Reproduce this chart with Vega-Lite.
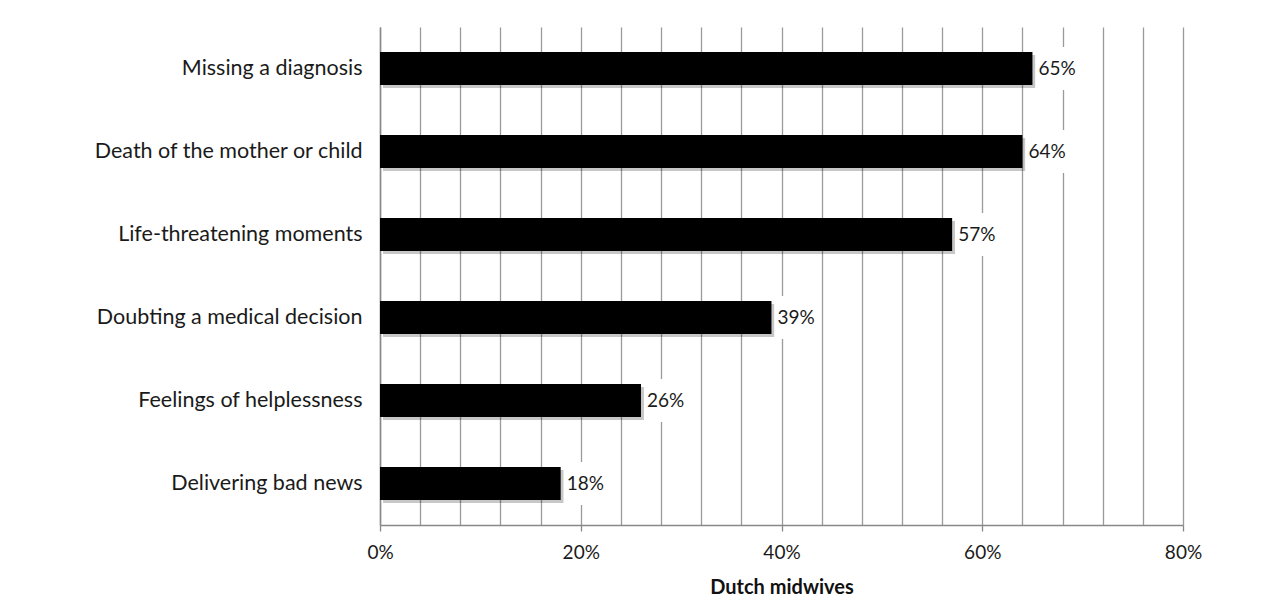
{
  "$schema": "https://vega.github.io/schema/vega-lite/v6.json",
  "width": 803,
  "height": 498,
  "autosize": "none",
  "padding": {"left": 380, "top": 27, "right": 104, "bottom": 91},
  "background": "white",
  "config": {
    "view": {"stroke": null},
    "font": "Lato",
    "axis": {"labelFont": "Lato", "titleFont": "Lato"}
  },
  "data": {
    "values": [
      {"item": "Missing a diagnosis", "value": 0.65},
      {"item": "Death of the mother or child", "value": 0.64},
      {"item": "Life-threatening moments", "value": 0.57},
      {"item": "Doubting a medical decision", "value": 0.39},
      {"item": "Feelings of helplessness", "value": 0.26},
      {"item": "Delivering bad news", "value": 0.18}
    ]
  },
  "encoding": {
    "y": {
      "field": "item", "type": "nominal", "sort": null,
      "scale": {"paddingInner": 0.6, "paddingOuter": 0.3},
      "axis": {
        "title": null, "ticks": false, "labelFontSize": 21.5, "labelColor": "#1a1a1a",
        "labelPadding": 18, "domainColor": "#888", "domainWidth": 1.5, "labelLimit": 400
      }
    }
  },
  "layer": [
    {
      "mark": {"type": "bar", "color": "#000", "opacity": 0.22, "xOffset": 3, "yOffset": 3, "height": {"band": 1}},
      "encoding": {
        "x": {
          "field": "value", "type": "quantitative",
          "scale": {"domain": [0, 0.8], "nice": false},
          "axis": {
            "values": [0, 0.04, 0.08, 0.12, 0.16, 0.2, 0.24, 0.28, 0.32, 0.36, 0.4, 0.44, 0.48, 0.52, 0.56, 0.6, 0.64, 0.68, 0.72, 0.76, 0.8],
            "labelExpr": "(round(datum.value*100) % 20 === 0) ? format(datum.value, '.0%') : ''",
            "labelFlush": false,
            "grid": true, "gridColor": "#9a9a9a", "gridWidth": 1.3,
            "tickColor": "#888", "tickSize": 6, "tickWidth": 1.3,
            "tickOpacity": {"condition": {"test": "round(datum.value*100) % 20 === 0", "value": 1}, "value": 0},
            "domainColor": "#888", "domainWidth": 1.5,
            "labelFontSize": 19, "labelColor": "#1a1a1a", "labelPadding": 12,
            "title": "Dutch midwives", "titleFontSize": 20, "titleFontWeight": "bold",
            "titleColor": "#111", "titlePadding": 15
          }
        }
      }
    },
    {
      "mark": {"type": "bar", "color": "white", "height": {"band": 1.3}, "xOffset": 3, "x2Offset": 48},
      "encoding": {
        "x": {"field": "value", "type": "quantitative"},
        "x2": {"field": "value"}
      }
    },
    {
      "mark": {"type": "bar", "color": "#000", "height": {"band": 1}},
      "encoding": {
        "x": {"field": "value", "type": "quantitative"}
      }
    },
    {
      "mark": {"type": "text", "align": "left", "baseline": "middle", "dx": 6, "fontSize": 19, "color": "#1a1a1a"},
      "encoding": {
        "x": {"field": "value", "type": "quantitative"},
        "text": {"field": "value", "type": "quantitative", "format": ".0%"}
      }
    }
  ]
}
